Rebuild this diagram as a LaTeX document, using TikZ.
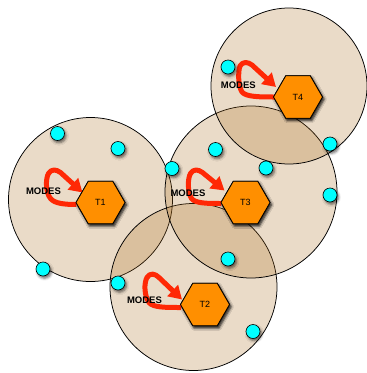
\documentclass[tikz,border=0pt]{standalone}
\usepackage{fontspec}
\setmainfont{Liberation Sans}
\usetikzlibrary{shapes.geometric,arrows.meta,shadows.blur}

\definecolor{zonefill}{RGB}{171,111,35}
\definecolor{taskorange}{RGB}{255,143,0}
\definecolor{modered}{RGB}{255,40,5}
\definecolor{sensorcyan}{RGB}{0,255,255}

\tikzset{
  zone/.style={circle, draw=black, line width=0.75pt, fill=zonefill,
    fill opacity=0.25, inner sep=0pt, minimum size=#1},
  softshadow/.style={blur shadow={shadow xshift=1.5pt, shadow yshift=-2.2pt,
    shadow blur radius=2.5pt, shadow opacity=60}},
  task/.style={regular polygon, regular polygon sides=6, minimum size=49pt,
    inner sep=0pt, draw=black, line width=0.8pt, fill=taskorange, softshadow,
    font=\fontsize{9}{10}\selectfont},
  sensor/.style={circle, draw=black, line width=0.6pt, fill=sensorcyan,
    minimum size=14pt, inner sep=0pt, softshadow},
  modeloop/.style={draw=modered, line width=5pt, line join=round,
    -{Triangle[length=13pt,width=15pt]}},
  modelabel/.style={font=\fontsize{9.5}{11}\selectfont\bfseries, inner sep=0pt},
}

\begin{document}
\begin{tikzpicture}[x=1pt, y=-1pt]
  \useasboundingbox (0,0) rectangle (367,373);

  % coverage zones
  \node[zone=164pt] (zone1) at (90.5,199.5) {};
  \node[zone=167pt] (zone2) at (193.5,287) {};
  \node[zone=172pt] (zone3) at (251,192) {};
  \node[zone=156pt] (zone4) at (289,86) {};

  % tasks
  \node[task] (t1) at (100.5,202.5) {T1};
  \node[task] (t3) at (245.5,202.5) {T3};
  \node[task] (t4) at (298,97) {T4};
  \node[task] (t2) at (205,304.5) {T2};

  % mode self-loops
  \draw[modeloop, shift={(t1.center)}] (-24,2)
    .. controls (-36,2) and (-46,1) .. (-50,-4)
    .. controls (-55,-10) and (-55,-24) .. (-52,-29)
    .. controls (-49,-34) and (-44,-33) .. (-40,-30) -- (-18,-10);
  \draw[modeloop, shift={(t3.center)}] (-24,1)
    .. controls (-38,1) and (-50,1) .. (-54,-4)
    .. controls (-58,-10) and (-58,-24) .. (-55,-29)
    .. controls (-52,-34) and (-47,-33) .. (-43,-30) -- (-21,-12);
  \draw[modeloop, shift={(t4.center)}] (-23,0)
    .. controls (-38,0) and (-52,0) .. (-56,-5)
    .. controls (-60,-11) and (-60,-26) .. (-58,-31)
    .. controls (-55,-36) and (-50,-35) .. (-46,-32) -- (-22,-10);
  \draw[modeloop, shift={(t2.center)}] (-24,3)
    .. controls (-40,3) and (-52,3) .. (-56,-2)
    .. controls (-61,-9) and (-61,-22) .. (-58,-27)
    .. controls (-55,-32) and (-50,-31) .. (-46,-27) -- (-23,-5);

  % redraw tasks above the loops
  \node[task] at (t1) {T1};
  \node[task] at (t3) {T3};
  \node[task] at (t4) {T4};
  \node[task] at (t2) {T2};

  % mode labels
  \node[modelabel] (m1) at (43.5,191) {MODES};
  \node[modelabel] (m3) at (188,193.3) {MODES};
  \node[modelabel] (m4) at (238.3,85.7) {MODES};
  \node[modelabel] (m2) at (144.5,300.7) {MODES};

  % sensors
  \node[sensor] (s1) at (57.5,133.5) {};
  \node[sensor] (s2) at (118,148.5) {};
  \node[sensor] (s3) at (43,269) {};
  \node[sensor] (s4) at (118,283) {};
  \node[sensor] (s5) at (172,168.5) {};
  \node[sensor] (s6) at (228,67) {};
  \node[sensor] (s7) at (330,144) {};
  \node[sensor] (s8) at (215.5,149.5) {};
  \node[sensor] (s9) at (266,168) {};
  \node[sensor] (s10) at (330,195) {};
  \node[sensor] (s11) at (228,259) {};
  \node[sensor] (s12) at (253,331.5) {};
\end{tikzpicture}
\end{document}
